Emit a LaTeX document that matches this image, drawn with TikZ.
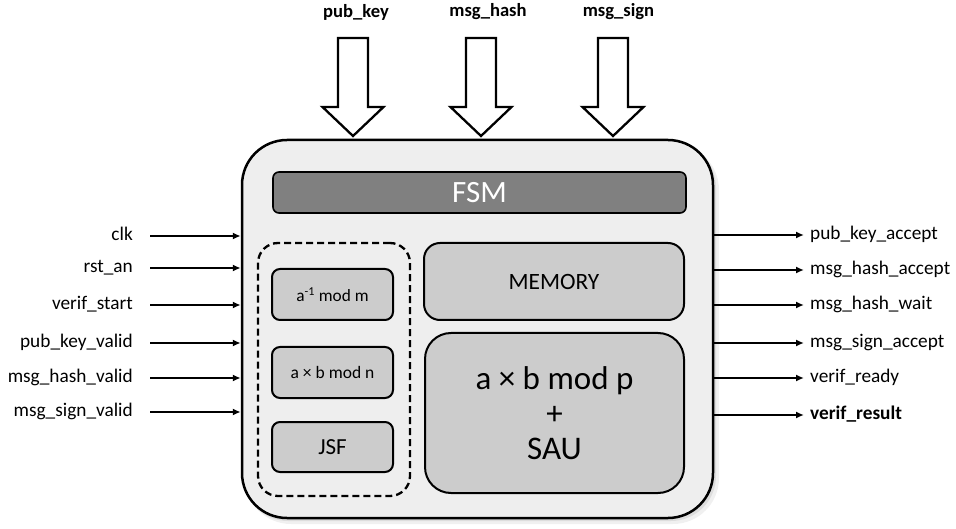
\documentclass[tikz,border=0pt]{standalone}
\usepackage{fontspec}
\setmainfont{Carlito}
\usetikzlibrary{arrows.meta,calc}
\definecolor{mainfill}{HTML}{EEEEEE}
\definecolor{boxfill}{HTML}{CCCCCC}
\definecolor{fsmfill}{HTML}{808080}
\begin{document}
\begin{tikzpicture}[x=1pt,y=-1pt,
  mainbox/.style={draw,line width=2.5pt,fill=mainfill,rounded corners=45pt,minimum width=471pt,minimum height=378pt,inner sep=0pt},
  unitbox/.style={draw,line width=2pt,fill=boxfill,inner sep=0pt},
  inlabel/.style={anchor=east,inner sep=0pt,font=\fontsize{19.3}{21}\selectfont,text height=13pt,text depth=4pt},
  outlabel/.style={anchor=west,inner sep=0pt,font=\fontsize{19.3}{21}\selectfont,text height=13pt,text depth=4pt},
  toplabel/.style={inner sep=0pt,font=\bfseries\fontsize{18.6}{20}\selectfont},
  sig/.style={line width=1.6pt,-{Latex[length=8pt,width=7pt]}},
  blockarrow/.style={draw,line width=2.3pt,fill=white,line join=miter}
]
\useasboundingbox (0,0) rectangle (956,529);

% shadow
\fill[black,opacity=0.06,rounded corners=46pt] (245,144) rectangle (719,524);
\fill[black,opacity=0.08,rounded corners=45pt] (243,142) rectangle (716,521);

% main block
\node[mainbox] (main) at (477.5,329) {};

% FSM
\node[draw,line width=1.6pt,fill=fsmfill,rounded corners=6pt,minimum width=413pt,minimum height=41pt,inner sep=0pt,text=white,font=\fontsize{31}{33}\selectfont] (fsm) at (479.5,192.5) {FSM};

% dashed group
\node[draw,dashed,dash pattern=on 7pt off 4pt,line width=2.3pt,rounded corners=20pt,minimum width=152pt,minimum height=253pt,inner sep=0pt] (grp) at (334,369.5) {};

\node[unitbox,rounded corners=8pt,minimum width=121pt,minimum height=51pt,font=\fontsize{17.3}{19}\selectfont] (inv) at (332.5,294.5) {a\textsuperscript{-1} mod m};
\node[unitbox,rounded corners=8pt,minimum width=121pt,minimum height=51pt,font=\fontsize{17.5}{19}\selectfont] (muln) at (332.5,372.5) {a × b mod n};
\node[unitbox,rounded corners=8pt,minimum width=121pt,minimum height=50pt,font=\fontsize{23}{25}\selectfont] (jsf) at (332.5,447) {JSF};

\node[unitbox,rounded corners=16pt,minimum width=260pt,minimum height=77pt,font=\fontsize{23.4}{25}\selectfont] (mem) at (554,281.5) {MEMORY};
\node[unitbox,rounded corners=26pt,minimum width=259pt,minimum height=160pt,align=center,font=\fontsize{33}{35}\selectfont] (sau) at (554.5,413) {a × b mod p\\+\\SAU};

% top inputs
\node[toplabel] (pk) at (356,12) {pub\_key};
\node[toplabel] (mh) at (488,12) {msg\_hash};
\node[toplabel] (ms) at (618.5,12) {msg\_sign};

\foreach \cx/\nm in {353/pk, 481/mh, 613/ms}{
  \coordinate (tip\nm) at (\cx,136);
  \draw[blockarrow] ($(tip\nm)+(-15,-98)$) -- ($(tip\nm)+(15,-98)$) -- ($(tip\nm)+(15,-29)$) -- ($(tip\nm)+(30.5,-29)$) -- (tip\nm) -- ($(tip\nm)+(-30.5,-29)$) -- ($(tip\nm)+(-15,-29)$) -- cycle;
}

% left inputs
\node[inlabel] (clk) at (133,236) {clk};
\node[inlabel] (rst) at (133,268) {rst\_an};
\node[inlabel] (vst) at (133,305) {verif\_start};
\node[inlabel] (pkv) at (133,343) {pub\_key\_valid};
\node[inlabel] (mhv) at (133,378) {msg\_hash\_valid};
\node[inlabel] (msv) at (133,412) {msg\_sign\_valid};
\foreach \n in {clk,rst,vst,pkv,mhv,msv}{
  \draw[sig] ([xshift=17pt]\n.east) -- (\n.east -| main.west);
}

% right outputs
\node[outlabel] (pka) at (810,235) {pub\_key\_accept};
\node[outlabel] (mha) at (810,270) {msg\_hash\_accept};
\node[outlabel] (mhw) at (810,305) {msg\_hash\_wait};
\node[outlabel] (msa) at (810,343) {msg\_sign\_accept};
\node[outlabel] (vrd) at (810,378) {verif\_ready};
\node[outlabel,font=\bfseries\fontsize{19.3}{21}\selectfont] (vrs) at (810,415) {verif\_result};
\foreach \n in {pka,mha,mhw,msa,vrd,vrs}{
  \draw[sig] (\n.west -| main.east) -- ([xshift=-6pt]\n.west);
}
\end{tikzpicture}
\end{document}
